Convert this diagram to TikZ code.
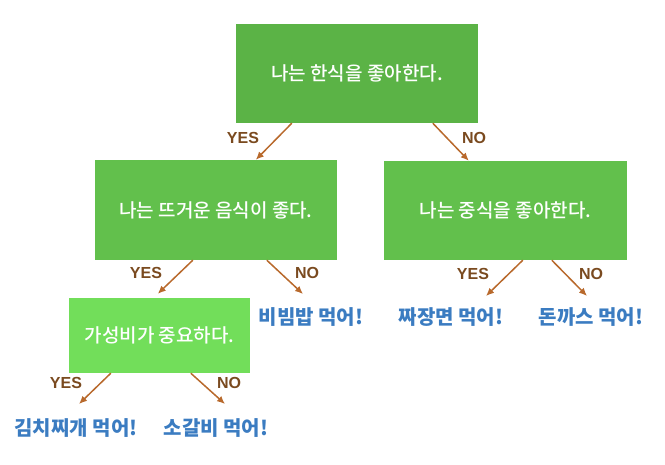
\documentclass[tikz,border=0pt]{standalone}
\usepackage{fontspec}
\setmainfont{Noto Sans CJK KR}
\newfontfamily\boxfont{Noto Sans CJK KR Medium}
\newfontfamily\answerfont{Liberation Sans}
\usetikzlibrary{arrows.meta}

\definecolor{rootgreen}{HTML}{5BB346}
\definecolor{midgreen}{HTML}{62C04C}
\definecolor{lightgreen}{HTML}{72DE5A}
\definecolor{leafblue}{HTML}{3B7CC1}
\definecolor{answerbrown}{HTML}{7A4A1F}
\definecolor{arrowbrown}{HTML}{B8692C}

\begin{document}
\begin{tikzpicture}[x=1pt, y=-1pt,
  box/.style={inner sep=0pt, text=white, font=\boxfont\fontsize{19}{21}\selectfont},
  leaf/.style={inner sep=0pt, text=leafblue, font=\bfseries\fontsize{20}{22}\selectfont},
  answer/.style={inner sep=0pt, text=answerbrown, font=\answerfont\bfseries\fontsize{16}{18}\selectfont},
  edge/.style={draw=arrowbrown, line width=1.5pt, -{Latex[length=8pt, width=7pt]}}]
  \useasboundingbox (0,0) rectangle (665,464);

  % Questions
  \node[box, fill=rootgreen, minimum width=242pt, minimum height=99pt] (root) at (357, 73.5) {나는 한식을 좋아한다.};
  \node[box, fill=midgreen, minimum width=242pt, minimum height=100pt] (hot) at (216, 210) {나는 뜨거운 음식이 좋다.};
  \node[box, fill=midgreen, minimum width=243pt, minimum height=99pt] (chinese) at (505.5, 210.5) {나는 중식을 좋아한다.};
  \node[box, fill=lightgreen, minimum width=181pt, minimum height=75pt] (value) at (159.5, 335.5) {가성비가 중요하다.};

  % Answers
  \node[leaf] (kimchi) at (76, 428) {김치찌개 먹어!};
  \node[leaf] (galbi) at (216, 428) {소갈비 먹어!};
  \node[leaf] (bibim) at (311, 317) {비빔밥 먹어!};
  \node[leaf] (jjajang) at (451, 317) {짜장면 먹어!};
  \node[leaf] (katsu) at (591, 317) {돈까스 먹어!};

  % Arrow ends above the answers
  \coordinate (bibimtop) at (303, 294);
  \coordinate (kimchitop) at (79, 404);
  \coordinate (galbitop) at (225, 404);
  \coordinate (jjajangtop) at (486, 296);
  \coordinate (katsutop) at (587, 296);

  % Arrows
  \draw[edge] ([xshift=56pt]root.south west) -- ([xshift=161pt]hot.north west);
  \draw[edge] ([xshift=197pt]root.south west) -- ([xshift=85pt]chinese.north west);
  \draw[edge] ([xshift=98pt]hot.south west) -- ([xshift=89pt, yshift=4pt]value.north west);
  \draw[edge] ([xshift=172pt]hot.south west) -- (bibimtop);
  \draw[edge] ([xshift=42pt]value.south west) -- (kimchitop);
  \draw[edge] ([xshift=122pt]value.south west) -- (galbitop);
  \draw[edge] ([xshift=139pt]chinese.south west) -- (jjajangtop);
  \draw[edge] ([xshift=168pt]chinese.south west) -- (katsutop);

  % YES/NO labels
  \node[answer] (yes1) at (243, 138) {YES};
  \node[answer] (no1) at (474, 138) {NO};
  \node[answer] (yes2) at (146, 273) {YES};
  \node[answer] (no2) at (307, 273) {NO};
  \node[answer] (yes3) at (66, 383) {YES};
  \node[answer] (no3) at (229, 383) {NO};
  \node[answer] (yes4) at (473, 274) {YES};
  \node[answer] (no4) at (591, 274) {NO};
\end{tikzpicture}
\end{document}
